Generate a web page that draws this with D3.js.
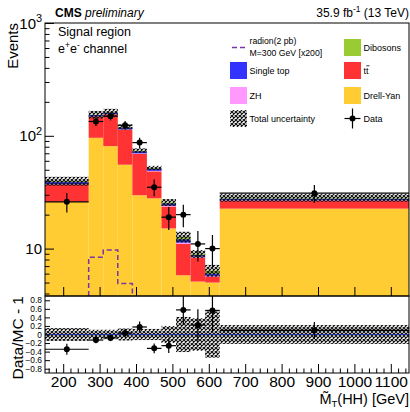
<!DOCTYPE html>
<html>
<head>
<meta charset="utf-8">
<script src="https://cdn.jsdelivr.net/npm/d3@7"></script>
<style>
body { margin: 0; background: #fff; }
svg { display: block; font-family: "Liberation Sans", Arial, sans-serif; }
</style>
</head>
<body>
<script>
// bins of the transverse mass (GeV)
const binEdges = [150, 270, 310, 350, 390, 430, 470, 510, 550, 590, 630, 1150];

// stacked backgrounds, events per bin
const drellYan  = [26, 96, 81, 55.4, 29.7, 27.9, 15.1, 5.8, 5.1, 5.0, 22.6];
const ttbar     = [11, 52, 74, 58, 39.5, 20.5, 8.5, 5.2, 3.2, 0.6, 3.8];
const zh        = [0.3, 0.5, 0.5, 0.6, 0.6, 0.5, 0.4, 0.3, 0.2, 0.15, 0.6];
const singleTop = [1.6, 4.5, 5, 4.5, 3.2, 2.2, 1.2, 0.8, 0.3, 0.25, 0.8];
const dibosons  = [0.8, 1, 1.5, 1.5, 1, 0.7, 0.5, 0.6, 0.2, 0.4, 0.5];

// observed data and its error
const dataCounts = [26, 134, 149, 124, 87, 35, 19, 20, 11, 10, 31];
const dataErr    = [5.1, 11.6, 12.2, 11.1, 9.3, 5.9, 4.4, 4.5, 3.3, 3.2, 5.6];

// radion signal (x200)
const radion = [0, 8.4, 9.7, 4.9, 0, 0, 0, 0, 0, 0, 0];

// relative uncertainty of the MC total (main panel) and of the ratio band
const mcUnc    = [0.09, 0.08, 0.07, 0.05, 0.045, 0.045, 0.07, 0.11, 0.08, 0.12, 0.08];
const ratioUnc = [0.15, 0.11, 0.11, 0.14, 0.13, 0.13, 0.2, 0.41, 0.38, 0.54, 0.22];

const xTicks = [200, 300, 400, 500, 600, 700, 800, 900, 1000, 1100];
const yMajor = [10, 100, 1000];
const ratioTicks = [-0.8, -0.6, -0.4, -0.2, 0, 0.2, 0.4, 0.6, 0.8];

const colors = {
  dy: "#ffcc33", tt: "#ff3333", zh: "#ff99ff", st: "#3333ff", db: "#99cc33",
  radion: "#7a35a8"
};

const W = 410, H = 412;
const left = 45, right = 409;
const mainTop = 23, mainBottom = 296;
const ratioTop = 296, ratioBottom = 373;

const svg = d3.select("body").append("svg")
    .attr("width", W)
    .attr("height", H);

const defs = svg.append("defs");
defs.append("pattern")
    .attr("id", "hatch")
    .attr("width", 4).attr("height", 4)
    .attr("patternUnits", "userSpaceOnUse")
  .append("path")
    .attr("d", "M0,0L4,4M4,0L0,4")
    .attr("stroke", "#111")
    .attr("stroke-width", 1.2);
defs.append("clipPath").attr("id", "clipMain")
  .append("rect").attr("x", left).attr("y", mainTop)
    .attr("width", right - left).attr("height", mainBottom - mainTop);
defs.append("clipPath").attr("id", "clipRatio")
  .append("rect").attr("x", left).attr("y", ratioTop)
    .attr("width", right - left).attr("height", ratioBottom - ratioTop);

const x = d3.scaleLinear().domain([150, 1150]).range([left, right]);
const y = d3.scaleLog().domain([3.8, 1000]).range([mainBottom, mainTop]).clamp(true);
const yr = d3.scaleLinear().domain([-0.9, 0.9]).range([ratioBottom, ratioTop]);

// table for the stack
const bins = d3.range(binEdges.length - 1).map(i => ({
  lo: binEdges[i], hi: binEdges[i + 1],
  dy: drellYan[i], tt: ttbar[i], zh: zh[i], st: singleTop[i], db: dibosons[i],
  data: dataCounts[i], err: dataErr[i], sig: radion[i],
  mcUnc: mcUnc[i], rUnc: ratioUnc[i]
}));
bins.forEach(b => { b.total = b.dy + b.tt + b.zh + b.st + b.db; });

const stack = d3.stack().keys(["dy", "tt", "zh", "st", "db"]);
const series = stack(bins);

// ---------- main panel ----------
const gMain = svg.append("g").attr("clip-path", "url(#clipMain)");

series.forEach(s => {
  gMain.append("g").selectAll("rect")
    .data(s)
    .enter().append("rect")
    .attr("x", d => x(d.data.lo))
    .attr("width", d => x(d.data.hi) - x(d.data.lo))
    .attr("y", d => y(d[1]))
    .attr("height", d => y(Math.max(d[0], 3.8)) - y(d[1]))
    .attr("fill", colors[s.key]);
});

// uncertainty band
gMain.append("g").selectAll("rect")
    .data(bins)
    .enter().append("rect")
    .attr("x", d => x(d.lo))
    .attr("width", d => x(d.hi) - x(d.lo))
    .attr("y", d => y(d.total * (1 + d.mcUnc)))
    .attr("height", d => y(d.total * (1 - d.mcUnc)) - y(d.total * (1 + d.mcUnc)))
    .attr("fill", "url(#hatch)");

// radion step line
const sigBins = bins.filter(b => b.sig > 0);
const sigPts = [[sigBins[0].lo, 3.8]];
sigBins.forEach(b => { sigPts.push([b.lo, b.sig]); sigPts.push([b.hi, b.sig]); });
sigPts.push([sigBins[sigBins.length - 1].hi, 3.8]);
gMain.append("path")
    .datum(sigPts)
    .attr("d", d3.line().x(d => x(d[0])).y(d => y(d[1])))
    .attr("fill", "none")
    .attr("stroke", colors.radion)
    .attr("stroke-width", 1.5)
    .attr("stroke-dasharray", "5,3");

// data points
const gData = gMain.append("g");
bins.forEach(b => {
  const cx = x((b.lo + b.hi) / 2);
  gData.append("line")
    .attr("x1", x(b.lo)).attr("x2", x(b.hi))
    .attr("y1", y(b.data)).attr("y2", y(b.data))
    .attr("stroke", "#000").attr("stroke-width", 1.2);
  gData.append("line")
    .attr("x1", cx).attr("x2", cx)
    .attr("y1", y(b.data + b.err)).attr("y2", y(b.data - b.err))
    .attr("stroke", "#000").attr("stroke-width", 1.2);
  gData.append("circle")
    .attr("cx", cx).attr("cy", y(b.data)).attr("r", 3)
    .attr("fill", "#000");
});

// main axes
const minorLog = [];
[1, 10, 100].forEach(dec => d3.range(2, 10).forEach(k => {
  const v = dec * k;
  if (v >= 3.8 && v < 1000 && !yMajor.includes(v)) minorLog.push(v);
}));
svg.append("g")
    .attr("transform", `translate(${left},0)`)
    .call(d3.axisLeft(y).tickValues(yMajor).tickSize(-9).tickFormat(""))
    .call(g => g.select(".domain").remove());
svg.append("g")
    .attr("transform", `translate(${left},0)`)
    .call(d3.axisLeft(y).tickValues(minorLog).tickSize(-4.5).tickFormat(""))
    .call(g => g.select(".domain").remove());

const yLab = svg.append("g")
    .attr("font-size", 15)
    .attr("text-anchor", "end");
yMajor.forEach(v => {
  const exp = Math.round(Math.log10(v));
  yLab.append("text")
      .attr("x", exp === 1 ? 42 : 36)
      .attr("y", y(v) + 5.5)
      .text("10");
  if (exp > 1) {
    yLab.append("text")
        .attr("x", 42).attr("y", y(v) - 1)
        .attr("font-size", 11)
        .text(exp);
  }
});

// main frame
svg.append("rect")
    .attr("x", left).attr("y", mainTop)
    .attr("width", right - left).attr("height", mainBottom - mainTop)
    .attr("fill", "none").attr("stroke", "#000").attr("stroke-width", 1);

// ---------- ratio panel ----------
const gRatio = svg.append("g").attr("clip-path", "url(#clipRatio)");
gRatio.append("g").selectAll("rect")
    .data(bins)
    .enter().append("rect")
    .attr("x", d => x(d.lo))
    .attr("width", d => x(d.hi) - x(d.lo))
    .attr("y", d => yr(d.rUnc))
    .attr("height", d => yr(-d.rUnc) - yr(d.rUnc))
    .attr("fill", "url(#hatch)");

gRatio.append("line")
    .attr("x1", left).attr("x2", right)
    .attr("y1", yr(0)).attr("y2", yr(0))
    .attr("stroke", "#2233aa").attr("stroke-width", 1.2);

bins.forEach(b => {
  const r = b.data / b.total - 1;
  const e = b.err / b.total;
  const cx = x((b.lo + b.hi) / 2);
  gRatio.append("line")
    .attr("x1", x(b.lo)).attr("x2", x(b.hi))
    .attr("y1", yr(r)).attr("y2", yr(r))
    .attr("stroke", "#000").attr("stroke-width", 1.2);
  gRatio.append("line")
    .attr("x1", cx).attr("x2", cx)
    .attr("y1", yr(r + e)).attr("y2", yr(r - e))
    .attr("stroke", "#000").attr("stroke-width", 1.2);
  gRatio.append("circle")
    .attr("cx", cx).attr("cy", yr(r)).attr("r", 3)
    .attr("fill", "#000");
});

svg.append("g")
    .attr("transform", `translate(${left},0)`)
    .call(d3.axisLeft(yr).tickValues(ratioTicks).tickSize(-5).tickPadding(3)
      .tickFormat(d => d === 0 ? "0" : d3.format(".1f")(d)))
    .call(g => g.select(".domain").remove())
    .call(g => g.selectAll("text").attr("font-size", 8.4).attr("font-family", null));

const minorX = d3.range(160, 1150, 20).filter(v => v % 100 !== 0);
svg.append("g")
    .attr("transform", `translate(0,${ratioBottom})`)
    .call(d3.axisBottom(x).tickValues(xTicks).tickSize(-9).tickPadding(3).tickFormat(d3.format("d")))
    .call(g => g.select(".domain").remove())
    .call(g => g.selectAll("text").attr("font-size", 15.5).attr("font-family", null));
svg.append("g")
    .attr("transform", `translate(0,${ratioBottom})`)
    .call(d3.axisBottom(x).tickValues(minorX).tickSize(-4.5).tickFormat(""))
    .call(g => g.select(".domain").remove());
svg.append("g")
    .attr("transform", `translate(0,${mainBottom})`)
    .call(d3.axisBottom(x).tickValues(xTicks).tickSize(-9).tickFormat(""))
    .call(g => g.select(".domain").remove());

svg.append("rect")
    .attr("x", left).attr("y", ratioTop)
    .attr("width", right - left).attr("height", ratioBottom - ratioTop)
    .attr("fill", "none").attr("stroke", "#000").attr("stroke-width", 1);

// ---------- titles ----------
svg.append("text")
    .attr("x", 55).attr("y", 16.5)
    .attr("font-size", 12)
    .call(t => {
      t.append("tspan").attr("font-weight", "bold").text("CMS ");
      t.append("tspan").attr("font-style", "italic").text("preliminary");
    });
svg.append("text")
    .attr("x", right).attr("y", 16.5)
    .attr("font-size", 12)
    .attr("text-anchor", "end")
    .call(t => {
      t.append("tspan").text("35.9 fb");
      t.append("tspan").attr("font-size", 8.5).attr("dy", -4.5).text("-1");
      t.append("tspan").attr("dy", 4.5).text(" (13 TeV)");
    });

svg.append("text")
    .attr("transform", `translate(18,${mainTop}) rotate(-90)`)
    .attr("text-anchor", "end")
    .attr("font-size", 15)
    .text("Events");
svg.append("text")
    .attr("transform", `translate(23,${ratioTop}) rotate(-90)`)
    .attr("text-anchor", "end")
    .attr("font-size", 15.5)
    .text("Data/MC - 1");

svg.append("text")
    .attr("x", right).attr("y", 404)
    .attr("font-size", 14.5)
    .attr("text-anchor", "end")
    .call(t => {
      t.append("tspan").text("M\u0303");
      t.append("tspan").attr("font-size", 9.5).attr("dy", 3).text("T");
      t.append("tspan").attr("dy", -3).text("(HH) [GeV]");
    });

svg.append("text")
    .attr("x", 58).attr("y", 35.5)
    .attr("font-size", 12.5)
    .text("Signal region");
svg.append("text")
    .attr("x", 58).attr("y", 53)
    .attr("font-size", 12.5)
    .call(t => {
      t.append("tspan").text("e");
      t.append("tspan").attr("font-size", 8.5).attr("dy", -5).text("+");
      t.append("tspan").attr("dy", 5).text("e");
      t.append("tspan").attr("font-size", 8.5).attr("dy", -5).text("-");
      t.append("tspan").attr("dy", 5).text(" channel");
    });

// ---------- legend ----------
const leg = svg.append("g").attr("font-size", 9);
const legBoxes = [
  { col: 1, row: 0, fill: colors.db, label: "Dibosons" },
  { col: 0, row: 1, fill: colors.st, label: "Single top" },
  { col: 1, row: 1, fill: colors.tt, label: "tt" },
  { col: 0, row: 2, fill: colors.zh, label: "ZH" },
  { col: 1, row: 2, fill: colors.dy, label: "Drell-Yan" },
  { col: 0, row: 3, fill: "url(#hatch)", label: "Total uncertainty" }
];
const colX = [230, 344], rowY = [39, 62, 87, 110], boxW = 17, boxH = 17;
legBoxes.forEach(e => {
  leg.append("rect")
      .attr("x", colX[e.col]).attr("y", rowY[e.row])
      .attr("width", boxW).attr("height", boxH)
      .attr("fill", e.fill);
  leg.append("text")
      .attr("x", colX[e.col] + 19.5).attr("y", rowY[e.row] + boxH / 2 + 3.3)
      .text(e.label);
});
// bar over the second t of tt
leg.append("line")
    .attr("x1", 366.3).attr("x2", 369.5)
    .attr("y1", rowY[1] + 3.8).attr("y2", rowY[1] + 3.8)
    .attr("stroke", "#000").attr("stroke-width", 0.8);
leg.append("line")
    .attr("x1", 232).attr("x2", 248).attr("y1", 47.5).attr("y2", 47.5)
    .attr("stroke", colors.radion).attr("stroke-width", 1.5)
    .attr("stroke-dasharray", "5,3");
leg.append("text").attr("x", 249.5).attr("y", 43.5).attr("font-size", 8.7).text("radion(2 pb)");
leg.append("text").attr("x", 249.5).attr("y", 55.5).attr("font-size", 8.7).text("M=300 GeV [x200]");

const dx = 352.5, dyL = 118.5;
leg.append("line").attr("x1", dx - 8).attr("x2", dx + 8).attr("y1", dyL).attr("y2", dyL)
    .attr("stroke", "#000").attr("stroke-width", 1.2);
leg.append("line").attr("x1", dx).attr("x2", dx).attr("y1", dyL - 10).attr("y2", dyL + 10)
    .attr("stroke", "#000").attr("stroke-width", 1.2);
leg.append("circle").attr("cx", dx).attr("cy", dyL).attr("r", 3).attr("fill", "#000");
leg.append("text").attr("x", 363.5).attr("y", dyL + 3.3).text("Data");
</script>
</body>
</html>
